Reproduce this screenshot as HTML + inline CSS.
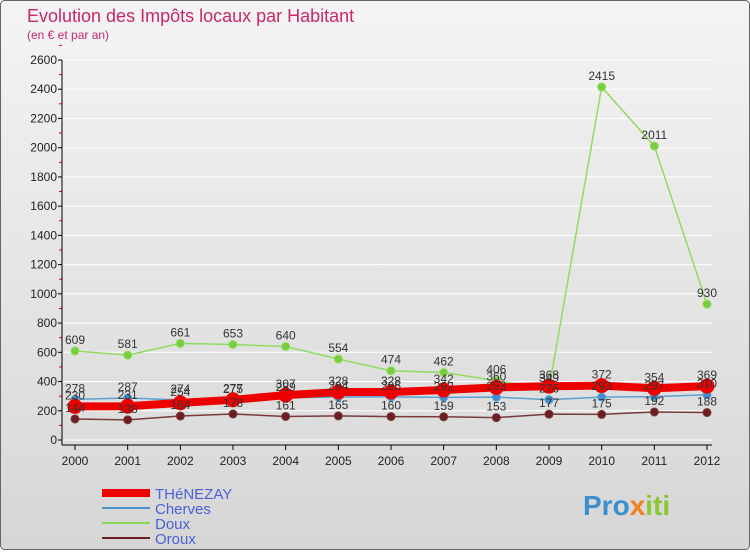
<!DOCTYPE html>
<html><head><meta charset="utf-8"><style>
body{margin:0;font-family:"Liberation Sans",sans-serif;}
svg text{font-family:"Liberation Sans",sans-serif;}
</style></head><body>
<svg id="c" width="750" height="550" xmlns="http://www.w3.org/2000/svg">
<defs><linearGradient id="bg" x1="0" y1="0" x2="0" y2="1"><stop offset="0" stop-color="#f4f4f4"/><stop offset="1" stop-color="#d6d6d6"/></linearGradient></defs>
<rect x="0.5" y="0.5" width="749" height="549" rx="4" fill="url(#bg)" stroke="#666"/>
<text x="27" y="22" font-size="18" fill="#c8286a">Evolution des Impôts locaux par Habitant</text>
<text x="27" y="39" font-size="12" fill="#c8286a">(en € et par an)</text>
<g id="grid"></g><g id="axes"></g><g id="series"></g><g id="labels"></g>
<g>
<line x1="102" y1="493" x2="150" y2="493" stroke="#ee0000" stroke-width="8"/>
<text x="155" y="499" font-size="15" fill="#4a60d8">THéNEZAY</text>
<line x1="102" y1="508" x2="150" y2="508" stroke="#4b93c8" stroke-width="2"/>
<text x="155" y="514" font-size="15" fill="#4a60d8">Cherves</text>
<line x1="102" y1="523" x2="150" y2="523" stroke="#88d855" stroke-width="2"/>
<text x="155" y="529" font-size="15" fill="#4a60d8">Doux</text>
<line x1="102" y1="538" x2="150" y2="538" stroke="#6b1f22" stroke-width="2"/>
<text x="155" y="544" font-size="15" fill="#4a60d8">Oroux</text>
</g>
<text x="583" y="515" font-size="28" font-weight="bold" fill="#3a8fd0">Pro<tspan fill="#f08020">x</tspan><tspan fill="#88c830">iti</tspan></text>
</svg>
<script>
const years=[2000,2001,2002,2003,2004,2005,2006,2007,2008,2009,2010,2011,2012];
const yTicks=[0,200,400,600,800,1000,1200,1400,1600,1800,2000,2200,2400,2600];
const thenezay=[230,231,254,275,307,328,328,342,360,368,372,354,369];
const cherves=[278,287,274,277,289,294,295,292,293,276,293,297,310];
const doux=[609,581,661,653,640,554,474,462,406,349,2415,2011,930];
const oroux=[144,138,164,178,161,165,160,159,153,177,175,192,188];
const NS="http://www.w3.org/2000/svg";
const X0=75,X1=707,Y0=440,Y1=60;
const xs=i=>X0+(X1-X0)*i/(years.length-1);
const ys=v=>Y0-(Y0-Y1)*v/2600;
function mk(p,t,a){const e=document.createElementNS(NS,t);for(const k in a)e.setAttribute(k,a[k]);document.getElementById(p).appendChild(e);return e;}
yTicks.forEach(v=>{
 const g=mk('grid','line',{x1:62,x2:712,y1:ys(v),y2:ys(v),stroke:'#fff','stroke-width':1});
 
 
 const t=mk('axes','text',{x:57,y:ys(v)+4,'font-size':12,'text-anchor':'end',fill:'#222'});
 t.textContent=v;
 
 
 const m=mk('axes','line',{x1:58,x2:62,y1:ys(v),y2:ys(v),stroke:'#000'});
 
 
 const m2=mk('axes','line',{x1:59,x2:62,y1:ys(v+100),y2:ys(v+100),stroke:'#e00'});
 
 
});
const ax=mk('axes','line',{x1:62,x2:62,y1:Y1,y2:Y0+5,stroke:'#000'});


const axx=mk('axes','line',{x1:62,x2:712,y1:Y0+5,y2:Y0+5,stroke:'#000'});


years.forEach((y,i)=>{
 const t=mk('axes','text',{x:xs(i),y:465,'font-size':12,'text-anchor':'middle',fill:'#222'});
 t.textContent=y;
 
 
 const m=mk('axes','line',{x1:xs(i),x2:xs(i),y1:Y0+5,y2:Y0+10,stroke:'#000'});
 
 
});
function series(name,data,color,w,r,dot){
 const p=mk('series','polyline',{points:data.map((v,i)=>xs(i)+','+ys(v)).join(' '),fill:'none',stroke:color,'stroke-width':w,'stroke-linejoin':'round'});
 
 
 data.forEach((v,i)=>{
  const c=mk('series','circle',{cx:xs(i),cy:ys(v),r:r,fill:dot,stroke:color,'stroke-width':1});
  
  
  const t=mk('labels','text',{x:xs(i),y:ys(v)-7,'font-size':12,'text-anchor':'middle',fill:'#333'});
  t.textContent=v;
  
  
 });
}
series('oroux',oroux,'#7a3a3c',1.5,4,'#6b1f22');
series('cherves',cherves,'#5aa0d0',1.5,4,'#3f8fd0');
series('doux',doux,'#90dc60',1.5,4,'#78cc40');
series('thenezay',thenezay,'#ee0000',8,7,'#ee0000');
</script>
</body></html>
